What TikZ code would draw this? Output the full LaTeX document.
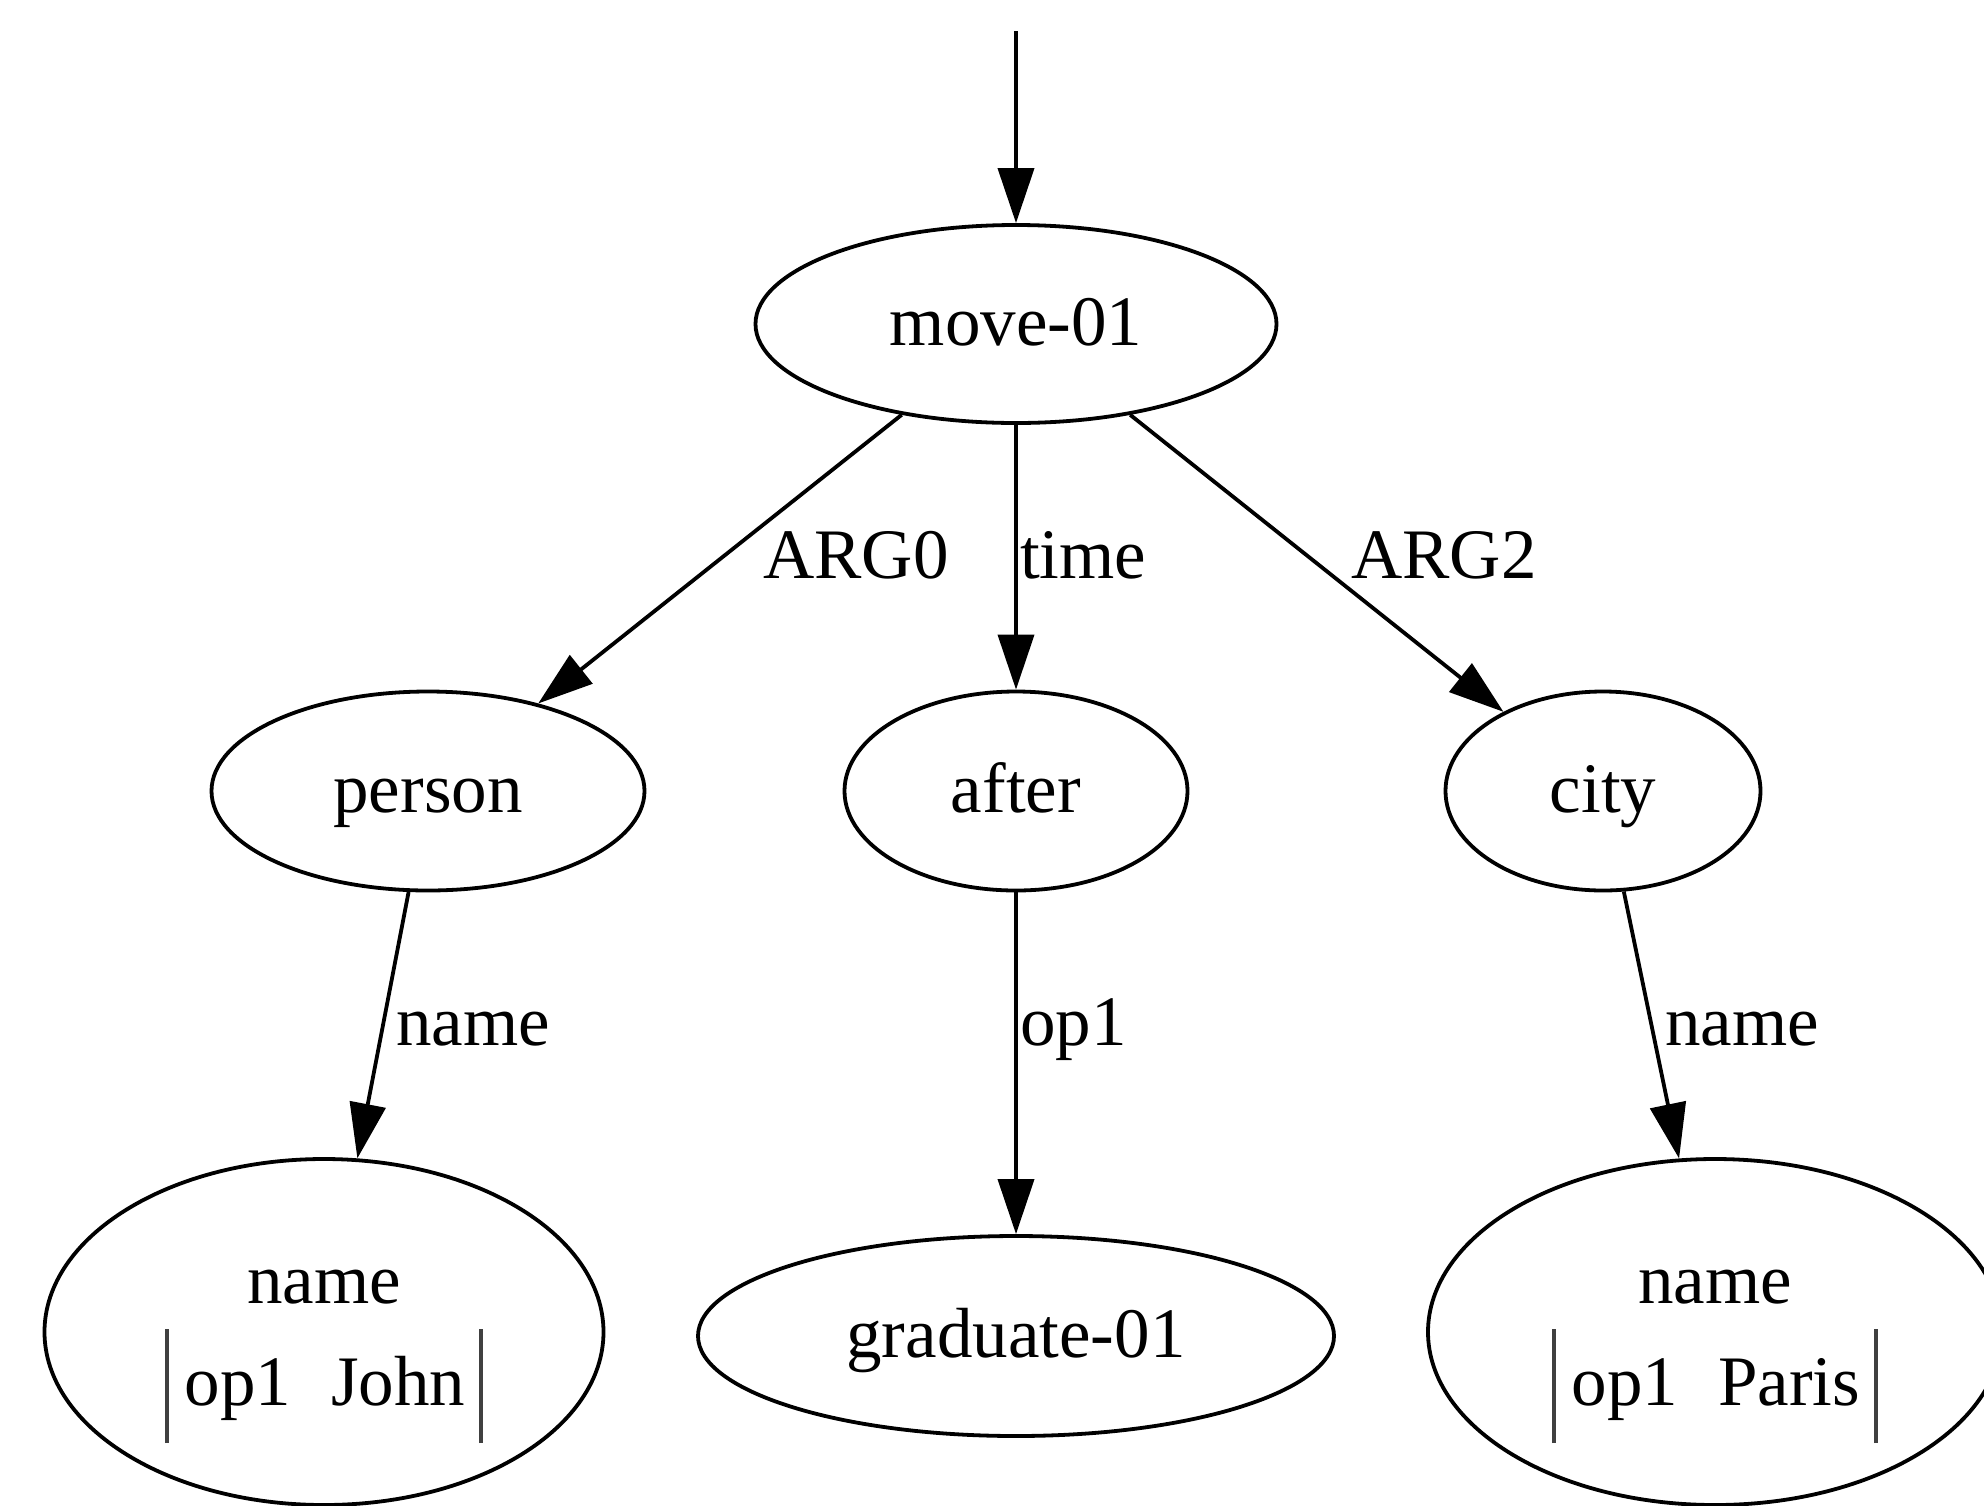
\documentclass[tikz,border=0pt]{standalone}
\usepackage{fontspec}
\setmainfont{Liberation Serif}
\usetikzlibrary{arrows.meta,shapes.geometric}
\newcommand\amrbar{{\color{black!75}\rule[-38pt]{4pt}{114pt}}}
\begin{document}
\begin{tikzpicture}[x=1pt,y=-1pt,
  amr/.style={ellipse,draw,line width=3.8pt,inner sep=0pt,
    font=\fontsize{71}{102}\selectfont,text height=50pt,text depth=8pt},
  twoline/.style={align=center,text height=172pt,text depth=26pt},
  edge/.style={line width=3.8pt,-{Triangle[length=55pt,width=36pt]}},
  lbl/.style={anchor=base west,inner sep=0pt,font=\fontsize{71}{85}\selectfont}]
\useasboundingbox (0,0) rectangle (1984,1505);
\node[amr,minimum width=521pt,minimum height=198pt] (move) at (1016,324) {move-01};
\node[amr,minimum width=433pt,minimum height=199pt] (person) at (428,791) {person};
\node[amr,minimum width=343pt,minimum height=199pt] (after) at (1016,791) {after};
\node[amr,minimum width=315pt,minimum height=199pt] (city) at (1603,791) {city};
\node[amr,twoline,minimum width=559pt,minimum height=346pt] (john) at (324,1332)
  {name\\\amrbar\hspace{16pt}op1\hspace{40pt}John\hspace{14pt}\amrbar};
\node[amr,minimum width=636pt,minimum height=200pt] (grad) at (1016,1336) {graduate-01};
\node[amr,twoline,minimum width=574pt,minimum height=346pt] (paris) at (1715,1332)
  {name\\\amrbar\hspace{16pt}op1\hspace{40pt}Paris\hspace{14pt}\amrbar};
\coordinate (root) at (1016,31);
\draw[edge] (root) -- (move);
\draw[edge] (move) -- (person);
\draw[edge] (move) -- (after);
\draw[edge] (move) -- (city);
\draw[edge] (person) -- (john);
\draw[edge] (after) -- (grad);
\draw[edge] (city) -- (paris);
\node[lbl] (l1) at (763,578) {ARG0};
\node[lbl] (l2) at (1020,578) {time};
\node[lbl] (l3) at (1351,578) {ARG2};
\node[lbl] (l4) at (396,1045) {name};
\node[lbl] (l5) at (1020,1045) {op1};
\node[lbl] (l6) at (1665,1045) {name};
\end{tikzpicture}
\end{document}
